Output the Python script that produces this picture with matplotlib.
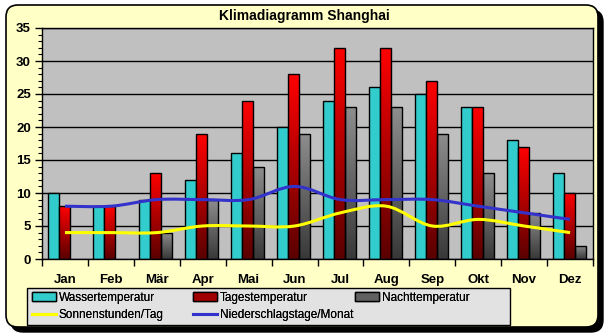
import numpy as np
import matplotlib
matplotlib.use("Agg")
import matplotlib.pyplot as plt
from matplotlib.patches import FancyBboxPatch, Patch, PathPatch, Rectangle
from matplotlib.lines import Line2D
from matplotlib.path import Path
from matplotlib.colors import LinearSegmentedColormap
from matplotlib.transforms import IdentityTransform

months = ['Jan', 'Feb', 'Mär', 'Apr', 'Mai', 'Jun', 'Jul', 'Aug', 'Sep', 'Okt', 'Nov', 'Dez']
wasser = [10, 8, 9, 12, 16, 20, 24, 26, 25, 23, 18, 13]
tages = [8, 8, 13, 19, 24, 28, 32, 32, 27, 23, 17, 10]
nacht = [0, 0, 4, 9, 14, 19, 23, 23, 19, 13, 7, 2]
sonne = [4, 4, 4, 5, 5, 5, 7, 8, 5, 6, 5, 4]
regen = [8, 8, 9, 9, 9, 11, 9, 9, 9, 8, 7, 6]

plt.rcParams['font.family'] = ['Liberation Sans', 'DejaVu Sans']

W, H = 609, 336


def smooth_path(x, y):
    # excel-style smoothed line: catmull-rom segments as bezier curves
    pts = np.column_stack([x, y]).astype(float)
    n = len(pts)
    verts = [pts[0]]
    codes = [Path.MOVETO]
    for i in range(n - 1):
        p0 = pts[max(i - 1, 0)]
        p1 = pts[i]
        p2 = pts[i + 1]
        p3 = pts[min(i + 2, n - 1)]
        verts += [p1 + (p2 - p0) / 6, p2 - (p3 - p1) / 6, p2]
        codes += [Path.CURVE4] * 3
    return Path(verts, codes)


def gradient_fill(ax, bars, cmap):
    grad = np.linspace(0, 1, 256).reshape(-1, 1)
    for b in bars:
        h = b.get_height()
        if h <= 0:
            continue
        x0, y0, w = b.get_x(), b.get_y(), b.get_width()
        im = ax.imshow(grad, extent=(x0, x0 + w, y0, y0 + h), origin='lower',
                       cmap=cmap, aspect='auto', zorder=2.1, interpolation='bilinear')
        im.set_clip_path(b)


fig = plt.figure(figsize=(W / 100, H / 100), dpi=100, facecolor='white')

# rounded frame with shadow (pixel coords)
shadow = FancyBboxPatch((11, 4), 592, 322, boxstyle='round,pad=0,rounding_size=12',
                        transform=IdentityTransform(), facecolor='black', edgecolor='black',
                        zorder=-2)
frame = FancyBboxPatch((6, 9), 592, 322, boxstyle='round,pad=0,rounding_size=12',
                       transform=IdentityTransform(), facecolor='#FFFFC6', edgecolor='black',
                       lw=1.2, zorder=-1)
fig.patches.extend([shadow, frame])

ax = fig.add_axes([42 / W, 1 - 259 / H, 551 / W, 231 / H])
ax.set_facecolor('#C0C0C0')

x = np.arange(len(months))
w = 0.24
off = -0.02
red_cmap = LinearSegmentedColormap.from_list('r', ['#5A0000', '#FF0000'])
grey_cmap = LinearSegmentedColormap.from_list('g', ['#383838', '#8E8E8E'])

ax.bar(x - w + off, wasser, w, color='#33CCCC', edgecolor='black', lw=1, zorder=2)
b_tag = ax.bar(x + off, tages, w, color='#C00000', edgecolor='none', zorder=2)
b_nac = ax.bar(x + w + off, nacht, w, color='#606060', edgecolor='none', zorder=2)
gradient_fill(ax, b_tag, red_cmap)
gradient_fill(ax, b_nac, grey_cmap)
ax.bar(x + off, tages, w, fill=False, edgecolor='black', lw=1, zorder=2.2)
ax.bar(x + w + off, [v if v > 0 else np.nan for v in nacht], w, fill=False,
       edgecolor='black', lw=1, zorder=2.2)

ax.add_patch(PathPatch(smooth_path(x, sonne), fill=False, edgecolor='#FFFF00', lw=2.2, zorder=3))
ax.add_patch(PathPatch(smooth_path(x, regen), fill=False, edgecolor='#3333CC', lw=2.2, zorder=3))

ax.set_xlim(-0.5, len(months) - 0.5)
ax.set_ylim(0, 35)
ax.set_yticks(np.arange(0, 36, 5))
ax.set_yticks(np.arange(0, 36, 1), minor=True)
ax.yaxis.grid(True, color='black', lw=1, zorder=0.5)
ax.set_axisbelow(True)

ax.set_xticks(np.arange(-0.5, len(months), 1))
ax.set_xticklabels([])
ax.set_xticks(x, minor=True)
ax.set_xticklabels(months, minor=True, fontweight='bold', fontsize=9.5)
ax.tick_params(axis='x', which='major', direction='out', length=5, width=1)
ax.tick_params(axis='x', which='minor', length=0, pad=11)
ax.tick_params(axis='y', which='major', direction='out', length=5, width=1, labelsize=9.5, pad=3)
ax.tick_params(axis='y', which='minor', direction='out', length=3, width=0.8)
for lab in ax.get_yticklabels():
    lab.set_fontweight('bold')
for s in ax.spines.values():
    s.set_color('black')
    s.set_linewidth(1)

fig.text(0.5, 1 - 16 / H, 'Klimadiagramm Shanghai', ha='center', va='center',
         fontsize=10, fontweight='bold')

# legend: grey box with three fixed columns
fig.patches.append(Rectangle((27 / W, 1 - 325 / H), 483 / W, 37 / H, transform=fig.transFigure,
                             facecolor='#E2E2E2', edgecolor='black', lw=1, zorder=1))
columns = [
    (32, [Patch(facecolor='#33CCCC', edgecolor='black', label='Wassertemperatur'),
          Line2D([], [], color='#FFFF00', lw=2.2, label='Sonnenstunden/Tag')]),
    (193, [Patch(facecolor='#A00000', edgecolor='black', label='Tagestemperatur'),
           Line2D([], [], color='#3333CC', lw=2.2, label='Niederschlagstage/Monat')]),
    (355, [Patch(facecolor='#606060', edgecolor='black', label='Nachttemperatur')]),
]
for xpix, hs in columns:
    leg = fig.legend(handles=hs, loc='upper left', bbox_to_anchor=(xpix / W, 1 - 292 / H),
                     bbox_transform=fig.transFigure, fontsize=8.5, frameon=False,
                     handlelength=2.0, handleheight=0.8, handletextpad=0.25,
                     borderpad=0, labelspacing=0.45, borderaxespad=0)
    fig.add_artist(leg)

fig.savefig('out.png', dpi=100, facecolor='white')
